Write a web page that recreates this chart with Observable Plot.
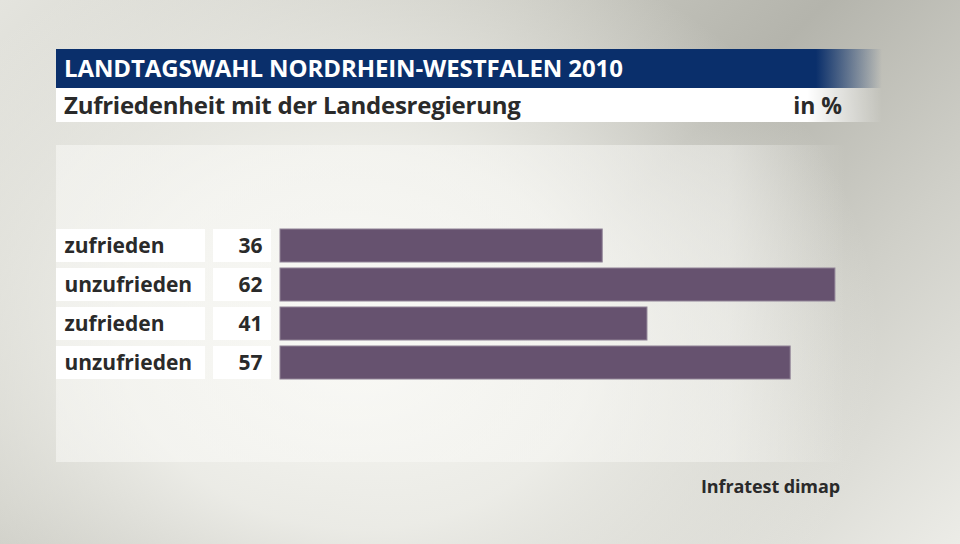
<!DOCTYPE html>
<html>
<head>
<meta charset="utf-8">
<script src="https://cdn.jsdelivr.net/npm/d3@7"></script>
<script src="https://cdn.jsdelivr.net/npm/@observablehq/plot@0.6"></script>
<style>
  html, body { margin: 0; padding: 0; }
  body { width: 960px; height: 544px; overflow: hidden; font-family: "Open Sans", sans-serif; }
  #stage {
    position: relative; width: 960px; height: 544px; overflow: hidden;
    background:
      radial-gradient(ellipse 520px 420px at 360px 340px, rgba(248,248,244,1) 0%, rgba(240,240,235,0.9) 45%, rgba(240,240,235,0) 100%),
      linear-gradient(135deg, #e4e4de 0%, #c9c9c1 35%, #b4b4ac 55%, #cfcfc8 75%, #ecece7 100%);
  }
  .panel { position: absolute; left: 56px; top: 145px; width: 790px; height: 317px;
    background: linear-gradient(90deg, rgba(250,250,247,0.55) 0%, rgba(250,250,247,0.45) 85%, rgba(250,250,247,0) 100%); }
  .titlebar { position: absolute; left: 56px; top: 49px; width: 826px; height: 39px;
    background: linear-gradient(90deg, #0a2f6b 0%, #0a2f6b 92%, rgba(10,47,107,0) 100%); }
  .subbar { position: absolute; left: 56px; top: 88px; width: 826px; height: 34px;
    background: linear-gradient(90deg, #ffffff 0%, #ffffff 91%, rgba(255,255,255,0) 100%); }
  .title { position: absolute; left: 64px; top: 51px; color: #fff; font-weight: 700; font-size: 24px; line-height: 34px; letter-spacing: -0.1px; white-space: nowrap; }
  .subtitle { position: absolute; left: 64px; top: 88px; color: #2a2a2a; font-weight: 700; font-size: 24px; line-height: 34px; letter-spacing: -0.25px; white-space: nowrap; }
  .unit { position: absolute; right: 118px; top: 88px; color: #2a2a2a; font-weight: 700; font-size: 23px; line-height: 34px; white-space: nowrap; }
  .source { position: absolute; right: 120px; top: 474px; color: #2a2a2a; font-weight: 700; font-size: 18px; line-height: 24px; letter-spacing: -0.1px; white-space: nowrap; }
  #chart { position: absolute; left: 0; top: 0; }
</style>
</head>
<body>
<div id="stage">
  <div class="panel"></div>
  <div class="titlebar"></div>
  <div class="subbar"></div>
  <div class="title" id="title"></div>
  <div class="subtitle" id="subtitle"></div>
  <div class="unit" id="unit"></div>
  <div class="source" id="source"></div>
  <div id="chart"></div>
</div>
<script>
// ---- data ----
const titleText = "LANDTAGSWAHL NORDRHEIN-WESTFALEN 2010";
const subtitleText = "Zufriedenheit mit der Landesregierung";
const unitText = "in %";
const sourceText = "Infratest dimap";
const categories = ["zufrieden", "unzufrieden", "zufrieden", "unzufrieden"];
const values = [36, 62, 41, 57];

document.getElementById("title").textContent = titleText;
document.getElementById("subtitle").textContent = subtitleText;
document.getElementById("unit").textContent = unitText;
document.getElementById("source").textContent = sourceText;

// ---- layout (pixels) ----
const W = 960, H = 544;
const x0 = 280;          // pixel where value 0 sits
const pxPerUnit = 8.95;  // pixel per percentage point
const xMax = 70;
const marginRight = W - x0 - xMax * pxPerUnit;
const px2x = px => (px - x0) / pxPerUnit;

const rows = categories.map((c, i) => ({ i, label: c, value: values[i] }));

const chart = Plot.plot({
  width: W,
  height: H,
  marginLeft: x0,
  marginRight: marginRight,
  marginTop: 0,
  marginBottom: 0,
  style: { background: "transparent", overflow: "visible" },
  x: { domain: [0, xMax], axis: null },
  y: { type: "band", domain: rows.map(d => d.i), range: [226, 382], paddingInner: 0.154, paddingOuter: 0.077, axis: null, round: false },
  marks: [
    // label boxes
    Plot.barX(rows, { y: "i", x1: () => px2x(56), x2: () => px2x(205), fill: "#ffffff" }),
    // value boxes
    Plot.barX(rows, { y: "i", x1: () => px2x(213), x2: () => px2x(271), fill: "#ffffff" }),
    // bars
    Plot.barX(rows, { y: "i", x1: 0, x2: "value", fill: "#66526f", stroke: "#8f8296", strokeWidth: 1 }),
    Plot.text(rows, { y: "i", x: () => px2x(64), text: "label", textAnchor: "start", fill: "#2a2a2a", fontSize: 21, fontWeight: 700, fontFamily: "Open Sans" }),
    Plot.text(rows, { y: "i", x: () => px2x(262), text: d => String(d.value), textAnchor: "end", fill: "#2a2a2a", fontSize: 21, fontWeight: 700, fontFamily: "Open Sans" })
  ]
});
document.getElementById("chart").appendChild(chart);
</script>
</body>
</html>
